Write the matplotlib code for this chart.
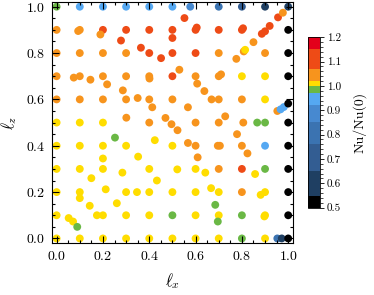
import numpy as np
import matplotlib
matplotlib.use('Agg')
import matplotlib.pyplot as plt
from matplotlib.colors import ListedColormap, BoundaryNorm
from matplotlib.ticker import MultipleLocator

# --- fonts: LaTeX-like look ---
plt.rcParams['font.family'] = 'serif'
plt.rcParams['font.serif'] = ['cmr10', 'DejaVu Serif']
plt.rcParams['mathtext.fontset'] = 'cm'
plt.rcParams['axes.formatter.use_mathtext'] = True
plt.rcParams['axes.unicode_minus'] = False

# --- data: sampled (l_x, l_z) positions and Nu/Nu(0) ---
lx = [0.0, 0.1, 0.2, 0.3, 0.4, 0.5, 0.577, 0.7, 0.8, 0.9, 1.0,
      0.0, 0.1, 0.093, 0.2, 0.189, 0.3, 0.278, 0.4, 0.5, 0.5, 0.552, 0.6, 0.605, 0.7, 0.8, 0.805,
      0.886, 0.9, 0.92, 0.956, 0.977, 1.0,
      0.0, 0.1, 0.2, 0.3, 0.364, 0.4, 0.451, 0.5, 0.6, 0.7, 0.776, 0.808, 0.814, 0.85, 0.9, 1.0,
      0.0, 0.074, 0.1, 0.146, 0.2, 0.218, 0.3, 0.286, 0.4, 0.401, 0.5, 0.53, 0.6, 0.607, 0.638,
      0.7, 0.71, 0.8, 0.9, 1.0,
      0.0, 0.1, 0.2, 0.3, 0.35, 0.4, 0.413, 0.5, 0.567, 0.669, 0.7, 0.8, 0.9, 0.953, 0.967, 0.981, 1.0,
      0.0, 0.1, 0.2, 0.301, 0.4, 0.47, 0.496, 0.522, 0.6, 0.7, 0.728, 0.806, 0.866, 0.9, 1.0,
      0.0, 0.1, 0.2, 0.3, 0.252, 0.424, 0.5, 0.567, 0.6, 0.609, 0.696, 0.705, 0.779, 0.8, 0.824, 0.9, 1.0,
      0.0, 0.1, 0.2, 0.2, 0.284, 0.15, 0.352, 0.4, 0.521, 0.6, 0.642, 0.7, 0.8, 0.857, 0.9, 1.0,
      0.0, 0.1, 0.1, 0.212, 0.3, 0.347, 0.4, 0.433, 0.5, 0.6, 0.667, 0.7, 0.8, 0.881, 0.9, 1.0,
      0.0, 0.143, 0.26, 0.174, 0.2, 0.3, 0.4, 0.5, 0.6, 0.685, 0.7, 0.696, 0.8, 0.897, 0.9, 1.0,
      0.052, 0.071, 0.089,
      0.0, 0.1, 0.2, 0.3, 0.4, 0.5, 0.6, 0.7, 0.8, 0.9, 0.953, 0.972, 1.0]
lz = [1.0, 1.0, 1.0, 1.0, 1.0, 1.0, 1.0, 1.0, 1.0, 1.0, 1.0,
      0.9, 0.9, 0.895, 0.9, 0.88, 0.9, 0.854, 0.9, 0.9, 0.865, 0.951, 0.9, 0.91, 0.9, 0.9, 0.907,
      0.883, 0.894, 0.917, 0.954, 0.974, 0.9,
      0.8, 0.8, 0.8, 0.8, 0.823, 0.8, 0.778, 0.8, 0.8, 0.8, 0.775, 0.807, 0.814, 0.847, 0.8, 0.8,
      0.7, 0.694, 0.7, 0.685, 0.7, 0.665, 0.7, 0.639, 0.7, 0.69, 0.7, 0.728, 0.7, 0.668, 0.636,
      0.7, 0.708, 0.7, 0.7, 0.7,
      0.6, 0.6, 0.6, 0.6, 0.606, 0.6, 0.566, 0.6, 0.566, 0.6, 0.6, 0.6, 0.6, 0.55, 0.557, 0.567, 0.582,
      0.5, 0.5, 0.5, 0.521, 0.5, 0.52, 0.493, 0.467, 0.5, 0.5, 0.527, 0.5, 0.5, 0.5, 0.5,
      0.4, 0.4, 0.4, 0.4, 0.435, 0.424, 0.4, 0.412, 0.4, 0.35, 0.4, 0.4, 0.45, 0.4, 0.367, 0.4, 0.4,
      0.3, 0.3, 0.3, 0.345, 0.284, 0.26, 0.353, 0.3, 0.298, 0.3, 0.284, 0.3, 0.3, 0.278, 0.3, 0.3,
      0.2, 0.2, 0.174, 0.212, 0.2, 0.2, 0.2, 0.25, 0.2, 0.2, 0.217, 0.2, 0.2, 0.188, 0.2, 0.2,
      0.1, 0.141, 0.152, 0.1, 0.1, 0.1, 0.1, 0.1, 0.1, 0.145, 0.1, 0.073, 0.1, 0.095, 0.1, 0.1,
      0.088, 0.073, 0.05,
      0.0, 0.0, 0.0, 0.0, 0.0, 0.0, 0.0, 0.0, 0.0, 0.0, 0.0, 0.0, 0.0]
nu = [0.985, 0.945, 0.94, 0.945, 0.935, 0.925, 0.89, 0.8, 0.72, 0.62, 0.6,
      1.04, 1.04, 1.04, 1.11, 1.05, 1.11, 1.10, 1.11, 1.11, 1.10, 1.10, 1.11, 1.11, 1.10, 1.11, 1.11,
      1.10, 1.10, 1.10, 1.09, 1.05, 0.52,
      1.04, 1.04, 1.04, 1.05, 1.10, 1.09, 1.10, 1.09, 1.09, 1.05, 1.04, 1.05, 1.01, 1.05, 1.04, 0.52,
      1.04, 1.04, 1.04, 1.05, 1.04, 1.05, 1.04, 1.04, 1.04, 1.04, 1.09, 1.05, 1.04, 1.04, 1.04,
      1.04, 1.04, 1.01, 1.01, 0.52,
      1.04, 1.04, 1.04, 1.04, 1.04, 1.04, 1.05, 1.04, 1.04, 1.05, 1.04, 1.04, 1.01, 1.04, 0.94, 0.94, 0.52,
      1.01, 1.01, 1.01, 1.04, 1.04, 1.04, 1.04, 1.04, 1.04, 1.04, 1.04, 1.03, 0.985, 0.985, 0.52,
      1.01, 1.01, 1.01, 1.01, 0.985, 1.01, 1.01, 1.04, 1.04, 1.04, 1.04, 1.04, 1.04, 1.04, 1.04, 0.94, 0.52,
      1.01, 1.01, 1.01, 1.01, 1.01, 1.01, 1.01, 1.01, 1.01, 1.01, 1.01, 1.04, 1.09, 1.01, 0.985, 0.52,
      1.01, 1.01, 1.01, 1.01, 1.01, 1.01, 1.01, 1.01, 1.01, 1.01, 1.01, 1.01, 1.04, 1.01, 1.01, 0.52,
      1.01, 1.01, 1.01, 1.01, 1.01, 1.01, 1.01, 0.985, 1.01, 0.985, 1.01, 0.985, 0.985, 1.01, 1.01, 0.52,
      1.01, 1.01, 0.985,
      1.01, 1.01, 1.01, 1.01, 1.01, 1.01, 1.01, 1.01, 0.985, 1.01, 0.8, 0.6, 0.52]

# discrete colour scale
bounds = [0.5, 0.55, 0.65, 0.76, 0.85, 0.92, 0.97, 1.0, 1.02, 1.07, 1.15, 1.2]
colors = ['#000000', '#1f3f62', '#335d92', '#3b73b1', '#4789d0', '#55a8f2',
          '#6ab845', '#ffdd00', '#f7941d', '#ee4b16', '#e3001b']
cmap = ListedColormap(colors)
norm = BoundaryNorm(bounds, cmap.N)

fig = plt.figure(figsize=(3.74, 2.95), dpi=100)
ax = fig.add_axes([0.139, 0.176, 0.644, 0.817])
cax = fig.add_axes([0.823, 0.296, 0.033, 0.578])

sc = ax.scatter(lx, lz, c=nu, cmap=cmap, norm=norm, s=32, linewidths=0)

ax.set_xlim(-0.02, 1.02)
ax.set_ylim(-0.02, 1.02)
ax.xaxis.set_major_locator(MultipleLocator(0.2))
ax.yaxis.set_major_locator(MultipleLocator(0.2))
ax.xaxis.set_minor_locator(MultipleLocator(0.05))
ax.yaxis.set_minor_locator(MultipleLocator(0.05))
ax.tick_params(which='both', direction='in', top=True, right=True, labelsize=10, width=0.8)
ax.tick_params(which='major', length=5, pad=5)
ax.tick_params(which='minor', length=2.5)
for s in ax.spines.values():
    s.set_linewidth(0.8)
ax.set_xlabel(r'$\ell_x$', fontsize=12, labelpad=6)
ax.set_ylabel(r'$\ell_z$', fontsize=12, labelpad=5)

cb = fig.colorbar(sc, cax=cax, spacing='proportional', ticks=np.arange(0.5, 1.21, 0.1))
cb.ax.yaxis.set_minor_locator(MultipleLocator(0.02))
cb.ax.tick_params(which='major', length=3, width=0.6, labelsize=8, pad=2)
cb.ax.tick_params(which='minor', length=1.8, width=0.5)
cb.ax.set_yticklabels(['%.1f' % t for t in np.arange(0.5, 1.21, 0.1)])
cb.outline.set_linewidth(0.6)
cb.set_label('Nu/Nu(0)', fontsize=10, labelpad=8)

fig.savefig('out.png', dpi=100)
